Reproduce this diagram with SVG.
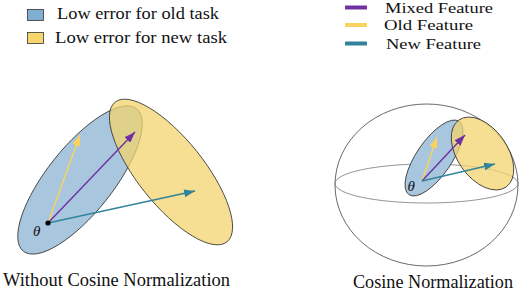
<svg xmlns="http://www.w3.org/2000/svg" width="520" height="290" viewBox="0 0 520 290">
<style>
text{font-family:"Liberation Serif","Times New Roman",serif;fill:#111}
.lg{font-size:16.5px}
.lr{font-size:14.5px}
.cap{font-size:18px}
.th{font-size:15px;font-style:italic}
.blue{fill:#a9c6df;stroke:#333;stroke-width:0.8}
.yel{fill:#f3d46e;fill-opacity:0.75;stroke:#333;stroke-width:0.8}
.ar{fill:none;stroke-width:1.4}
.pu{stroke:#7030a0}
.ye{stroke:#fbd35c}
.te{stroke:#31849b}
.ll{stroke-width:4}
</style>
<defs>
<marker id="mp" markerWidth="11" markerHeight="8" refX="11" refY="4" orient="auto" markerUnits="userSpaceOnUse"><path d="M0,0 L11,4 L0,8 z" fill="#7030a0"/></marker>
<marker id="my" markerWidth="11" markerHeight="8" refX="11" refY="4" orient="auto" markerUnits="userSpaceOnUse"><path d="M0,0 L11,4 L0,8 z" fill="#fbd35c"/></marker>
<marker id="mt" markerWidth="11" markerHeight="8" refX="11" refY="4" orient="auto" markerUnits="userSpaceOnUse"><path d="M0,0 L11,4 L0,8 z" fill="#31849b"/></marker>
</defs>
<rect width="520" height="290" fill="#fff"/>

<g id="legend-old-task">
<rect x="27.5" y="9.5" width="16" height="11" fill="#80afd4" stroke="#333" stroke-width="0.8"/>
<text class="lg" x="57" y="19" textLength="162" lengthAdjust="spacingAndGlyphs">Low error for old task</text>
</g>
<g id="legend-new-task">
<rect x="27.5" y="32.5" width="16" height="11" fill="#f5d56c" stroke="#333" stroke-width="0.8"/>
<text class="lg" x="55" y="42.5" textLength="172" lengthAdjust="spacingAndGlyphs">Low error for new task</text>
</g>
<g id="legend-mixed">
<line class="pu ll" x1="345" y1="7.5" x2="367" y2="7.5"/>
<text class="lr" x="385" y="13.2" textLength="108" lengthAdjust="spacingAndGlyphs">Mixed Feature</text>
</g>
<g id="legend-oldf">
<line class="ye ll" x1="345" y1="25" x2="367" y2="25"/>
<text class="lr" x="384" y="30" textLength="89" lengthAdjust="spacingAndGlyphs">Old Feature</text>
</g>
<g id="legend-newf">
<line class="te ll" x1="345" y1="43.5" x2="367" y2="43.5"/>
<text class="lr" x="386" y="48.5" textLength="95" lengthAdjust="spacingAndGlyphs">New Feature</text>
</g>

<g id="left-old-region">
<ellipse class="blue" cx="80" cy="180" rx="91" ry="33" transform="rotate(-51.5 80 180)"/>
</g>
<g id="left-new-region">
<ellipse class="yel" cx="171" cy="172" rx="89.5" ry="33" transform="rotate(51.3 171 172)"/>
</g>

<g id="sphere">
<ellipse cx="426.5" cy="185" rx="91.5" ry="81" fill="none" stroke="#444" stroke-width="0.8"/>
<ellipse cx="426.5" cy="183.5" rx="91.5" ry="19.5" fill="none" stroke="#777" stroke-width="0.8"/>
</g>
<g id="right-old-region">
<ellipse class="blue" cx="434" cy="158" rx="44.4" ry="17.6" transform="rotate(-55.6 434 158)"/>
</g>
<g id="right-new-region">
<ellipse class="yel" cx="482.5" cy="153.5" rx="41" ry="25" transform="rotate(54.8 482.5 153.5)"/>
</g>

<g id="connectors">
<line class="ar ye" x1="48" y1="223" x2="80" y2="135" marker-end="url(#my)"/>
<line class="ar pu" x1="48" y1="223" x2="135" y2="132" marker-end="url(#mp)"/>
<line class="ar te" x1="48" y1="223" x2="195" y2="191" marker-end="url(#mt)"/>
<line class="ar ye" x1="422" y1="181" x2="437" y2="137" marker-end="url(#my)"/>
<line class="ar pu" x1="422" y1="181" x2="465" y2="135" marker-end="url(#mp)"/>
<line class="ar te" x1="422" y1="181" x2="495" y2="164" marker-end="url(#mt)"/>
</g>

<g id="origin-left">
<circle cx="48" cy="223" r="2.6" fill="#000"/>
<text class="th" x="33" y="236">θ</text>
</g>
<g id="origin-right">
<text class="th" x="407.5" y="191">θ</text>
</g>

<text class="cap" x="3" y="285.5" textLength="227" lengthAdjust="spacingAndGlyphs">Without Cosine Normalization</text>
<text class="cap" x="353" y="287.5" textLength="160" lengthAdjust="spacingAndGlyphs">Cosine Normalization</text>
</svg>
